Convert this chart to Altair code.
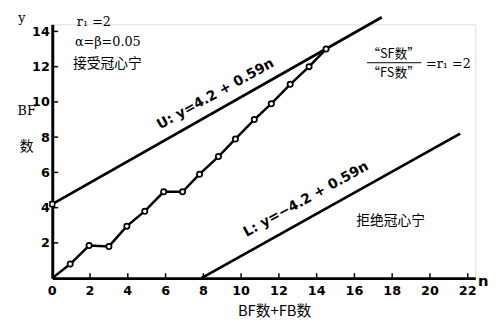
import altair as alt
import pandas as pd

# observed cumulative path (n = BF+FB count, y = BF count)
path_n = [0, 0.95, 1.95, 3.0, 3.95, 4.9, 5.9, 6.9, 7.8, 8.8, 9.7, 10.7, 11.6, 12.6, 13.6, 14.5]
path_y = [0, 0.8, 1.85, 1.8, 2.95, 3.8, 4.9, 4.9, 5.9, 6.9, 7.9, 9.0, 9.9, 11.0, 12.0, 13.0]

# boundary lines as drawn
upper_n = [0, 17.45]
upper_y = [4.2, 14.8]
lower_n = [7.9, 21.6]
lower_y = [0, 8.2]

x_ticks = [0, 2, 4, 6, 8, 10, 12, 14, 16, 18, 20, 22]
y_ticks = [2, 4, 6, 8, 10, 12, 14]

W, H = 430, 258
X_DOM = [0, 22.4]
Y_DOM = [0, 14.4]

CJK = "Noto Sans CJK SC"
NUM = "DejaVu Sans"

xs = alt.Scale(domain=X_DOM, nice=False, zero=False)
ys = alt.Scale(domain=Y_DOM, nice=False, zero=False)

path_df = pd.DataFrame({"n": path_n, "y": path_y})
pts_df = path_df.iloc[1:]
upper_df = pd.DataFrame({"n": upper_n, "y": upper_y})
lower_df = pd.DataFrame({"n": lower_n, "y": lower_y})

xaxis = alt.Axis(values=x_ticks, ticks=False, grid=False, domainWidth=3, domainColor="black",
                 labels=False, title=None)
yaxis = alt.Axis(values=y_ticks, ticks=False, grid=False, domainWidth=3, domainColor="black",
                 labelFont=NUM, labelFontWeight="bold", labelFontSize=13, labelColor="black",
                 labelOverlap=False, labelFlush=False,
                 labelPadding=3, title=None)

XN = alt.X("n:Q", scale=xs)
YN = alt.Y("y:Q", scale=ys)

base_path = alt.Chart(path_df).mark_line(color="black", strokeWidth=2.5).encode(
    x=alt.X("n:Q", scale=xs, axis=xaxis),
    y=alt.Y("y:Q", scale=ys, axis=yaxis),
)
pts = alt.Chart(pts_df).mark_point(shape="circle", filled=True, fill="white", stroke="black",
                                   strokeWidth=1.8, size=28, opacity=1).encode(x=XN, y=YN)

upper = alt.Chart(upper_df).mark_line(color="black", strokeWidth=2.8).encode(x=XN, y=YN)
upper_pt = alt.Chart(upper_df.iloc[:1]).mark_point(shape="square", filled=True, fill="white",
                                                    stroke="black", strokeWidth=1.5, size=22, opacity=1).encode(x=XN, y=YN)
lower = alt.Chart(lower_df).mark_line(color="black", strokeWidth=2.8).encode(x=XN, y=YN)

xt_df = pd.DataFrame({"n": x_ticks[1:]})
xtick_marks = alt.Chart(xt_df).mark_rule(color="black", strokeWidth=1.5).encode(
    x=XN, y=alt.value(H), y2=alt.value(H - 5))
yt_df = pd.DataFrame({"y": y_ticks})
ytick_marks = alt.Chart(yt_df).mark_rule(color="black", strokeWidth=1.5).encode(
    y=YN, x=alt.value(0), x2=alt.value(6))

xl_df = pd.DataFrame({"n": x_ticks, "lab": [str(v) for v in x_ticks]})
xlabels = alt.Chart(xl_df).mark_text(font=NUM, fontWeight="bold", fontSize=13, color="black",
                                     baseline="middle", align="center").encode(
    x=XN, y=alt.value(H + 13), text="lab:N")

one = pd.DataFrame({"a": [0]})


def txt(text, x, y, font=CJK, size=12, weight="normal", align="center", angle=0):
    return alt.Chart(one).mark_text(text=text, font=font, fontSize=size, fontWeight=weight,
                                    align=align, baseline="middle", angle=angle, color="black").encode(
        x=alt.value(x), y=alt.value(y))


texts = [
    txt("y", -31, -6, font="DejaVu Serif", size=13),
    txt("n", 438, 261, font=NUM, size=15, weight="bold"),
    txt("BF", -26, 88, font="DejaVu Serif", size=13),
    txt("数", -26, 125, size=14),
    txt("BF数+FB数", 226, 291, size=15),
    txt("r₁ =2", 25, -2, font="DejaVu Serif", size=13, align="left"),
    txt("α=β=0.05", 23, 18, font="DejaVu Serif", size=13, align="left"),
    txt("接受冠心宁", 21, 40, size=14, align="left"),
    txt("U: y=4.2 + 0.59n", 166, 71, font=NUM, size=14, weight="bold", angle=331),
    txt("L: y=−4.2 + 0.59n", 258, 178, font=NUM, size=14, weight="bold", angle=331),
    txt("拒绝冠心宁", 344, 200, size=14),
    txt("“SF数”", 347, 30, size=13),
    txt("“FS数”", 347, 50, size=13),
    txt("=r₁ =2", 380, 40, font="DejaVu Serif", size=13, align="left"),
]
frac_bar = alt.Chart(one).mark_rule(color="black", strokeWidth=1).encode(
    x=alt.value(320), x2=alt.value(375), y=alt.value(39))

chart = alt.layer(base_path, upper, lower, pts, upper_pt, xtick_marks, ytick_marks, xlabels,
                  frac_bar, *texts).properties(
    width=W, height=H,
    autosize=alt.AutoSizeParams(type="none"),
    padding={"left": 45, "top": 14, "right": 16, "bottom": 45},
).configure_view(stroke=None).configure(background="white")

chart.save("out.html", embed_options={"renderer": "svg", "actions": False})
